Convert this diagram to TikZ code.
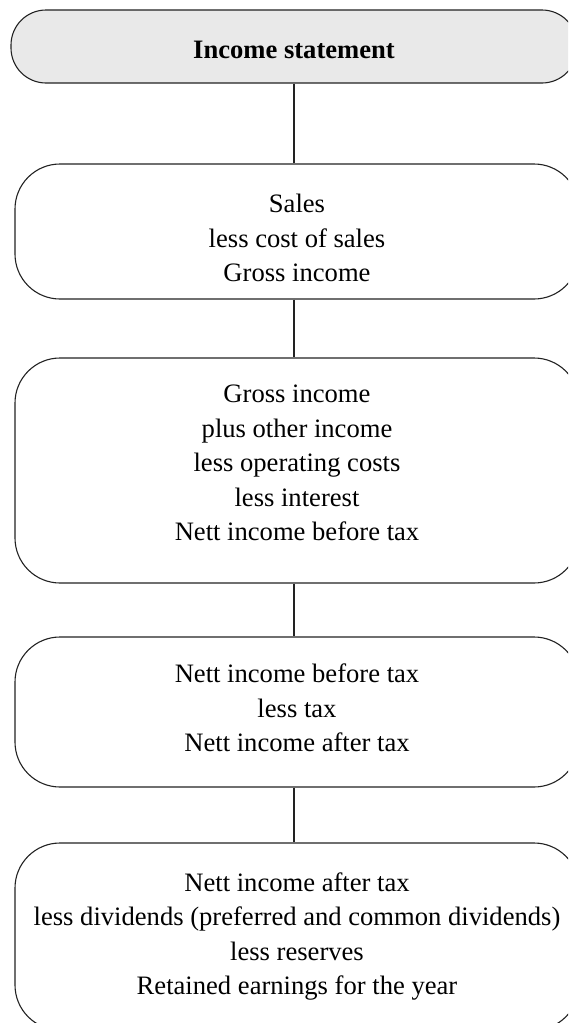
\documentclass[tikz,border=0pt]{standalone}
\usepackage{fontspec}
\setmainfont{Liberation Serif}
\definecolor{boxgray}{HTML}{E9E9E9}
\definecolor{linecol}{HTML}{222222}
\tikzset{
  stepbox/.style={draw=linecol, line width=1.1pt, rectangle, inner sep=0pt},
  txt/.style={align=center, inner sep=0pt, font=\fontsize{26.6}{34.4}\selectfont},
  conn/.style={draw=linecol, line width=1.1pt}
}
\begin{document}
\begin{tikzpicture}[x=1pt,y=-1pt]
\useasboundingbox (0,0) rectangle (568,1023);
\clip (0,0) rectangle (568,1023);
\node[stepbox, fill=boxgray, rounded corners=35pt, minimum width=566pt, minimum height=73pt] (b1) at (294,46.5) {};
\node[stepbox, rounded corners=45pt, minimum width=564pt, minimum height=135pt] (b2) at (297,231.5) {};
\node[stepbox, rounded corners=45pt, minimum width=564pt, minimum height=225pt] (b3) at (297,470.5) {};
\node[stepbox, rounded corners=45pt, minimum width=564pt, minimum height=150pt] (b4) at (297,712) {};
\node[stepbox, rounded corners=45pt, minimum width=564pt, minimum height=187pt] (b5) at (297,936.5) {};
\node[txt] (t1) at (294,50) {\textbf{Income statement}};
\node[txt] (t2) at (297,238) {Sales\\less cost of sales\\Gross income};
\node[txt] (t3) at (297,463) {Gross income\\plus other income\\less operating costs\\less interest\\Nett income before tax};
\node[txt] (t4) at (297,708) {Nett income before tax\\less tax\\Nett income after tax};
\node[txt] (t5) at (297,936.5) {Nett income after tax\\less dividends (preferred and common dividends)\\less reserves\\Retained earnings for the year};
\draw[conn] (b1.south) -- (b1.south |- b2.north);
\draw[conn] (b1.south |- b2.south) -- (b1.south |- b3.north);
\draw[conn] (b1.south |- b3.south) -- (b1.south |- b4.north);
\draw[conn] (b1.south |- b4.south) -- (b1.south |- b5.north);
\end{tikzpicture}
\end{document}
